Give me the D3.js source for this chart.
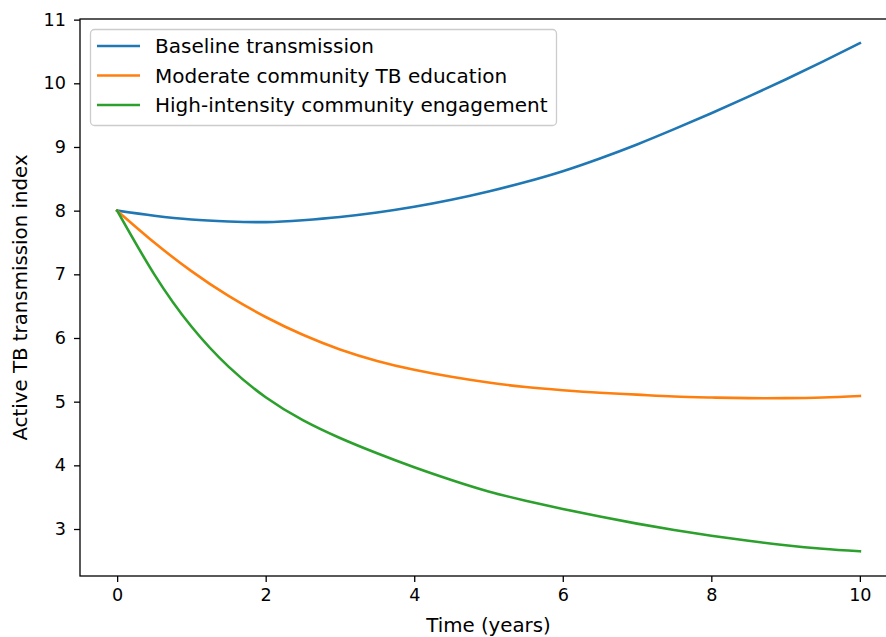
<!DOCTYPE html>
<html>
<head>
<meta charset="utf-8">
<script src="https://cdn.jsdelivr.net/npm/d3@7"></script>
<style>
  html, body { margin: 0; padding: 0; background: #fff; }
  svg { display: block; }
  text { font-family: "DejaVu Sans", sans-serif; fill: #000; }
</style>
</head>
<body>
<svg id="chart" width="886" height="637"></svg>
<script>
// Time axis (years) shared by all scenarios
const years = [0, 0.5, 1, 1.5, 2, 2.5, 3, 3.5, 4, 4.5, 5, 5.5, 6, 6.5, 7, 7.5, 8, 8.5, 9, 9.5, 10];

// Active TB transmission index under each scenario
const baseline = [8.00, 7.92, 7.86, 7.83, 7.82, 7.85, 7.90, 7.97, 8.06, 8.17, 8.30, 8.45, 8.62, 8.82, 9.04, 9.28, 9.53, 9.79, 10.06, 10.34, 10.63];
const moderate = [8.00, 7.50, 7.05, 6.66, 6.33, 6.05, 5.82, 5.64, 5.50, 5.39, 5.30, 5.23, 5.18, 5.14, 5.11, 5.08, 5.065, 5.055, 5.055, 5.065, 5.09];
const highIntensity = [8.00, 7.00, 6.18, 5.55, 5.07, 4.71, 4.43, 4.19, 3.97, 3.77, 3.59, 3.445, 3.315, 3.195, 3.085, 2.985, 2.895, 2.815, 2.745, 2.69, 2.65];

const seriesNames = ["Baseline transmission", "Moderate community TB education", "High-intensity community engagement"];
const seriesColors = ["#1f77b4", "#ff7f0e", "#2ca02c"];

const xTicks = [0, 2, 4, 6, 8, 10];
const yTicks = [3, 4, 5, 6, 7, 8, 9, 10, 11];

const xLabel = "Time (years)";
const yLabel = "Active TB transmission index";

const svg = d3.select("#chart");

const plot = { left: 80, top: 19, right: 897, bottom: 576 };

const x = d3.scaleLinear().domain([-0.5, 10.5]).range([plot.left, plot.right]);
const y = d3.scaleLinear().domain([2.262, 11.01]).range([plot.bottom, plot.top]);

const series = [baseline, moderate, highIntensity].map((vals, i) => ({
  name: seriesNames[i],
  color: seriesColors[i],
  points: years.map((t, j) => ({ t, v: vals[j] }))
}));

// lines
const line = d3.line()
  .x(d => x(d.t))
  .y(d => y(d.v))
  .curve(d3.curveNatural);

svg.append("g")
  .selectAll("path")
  .data(series)
  .join("path")
  .attr("d", d => line(d.points))
  .attr("fill", "none")
  .attr("stroke", d => d.color)
  .attr("stroke-width", 2.6)
  .attr("stroke-linecap", "square")
  .attr("stroke-linejoin", "round");

// axes
const xAxis = d3.axisBottom(x).tickValues(xTicks).tickFormat(d3.format("d")).tickSize(6).tickPadding(7);
const yAxis = d3.axisLeft(y).tickValues(yTicks).tickFormat(d3.format("d")).tickSize(6).tickPadding(8);

const gx = svg.append("g").attr("transform", `translate(0,${plot.bottom})`).call(xAxis);
const gy = svg.append("g").attr("transform", `translate(${plot.left},0)`).call(yAxis);

[gx, gy].forEach(g => {
  g.select(".domain").remove();
  g.selectAll(".tick line").attr("stroke", "#000").attr("stroke-width", 1.3);
  g.selectAll(".tick text").attr("font-size", 17.6).attr("font-family", "DejaVu Sans");
});

// frame
svg.append("rect")
  .attr("x", plot.left)
  .attr("y", plot.top)
  .attr("width", plot.right - plot.left)
  .attr("height", plot.bottom - plot.top)
  .attr("fill", "none")
  .attr("stroke", "#000")
  .attr("stroke-width", 1.3);

// axis labels
svg.append("text")
  .attr("x", (plot.left + plot.right) / 2)
  .attr("y", 632)
  .attr("text-anchor", "middle")
  .attr("font-size", 19.8)
  .text(xLabel);

svg.append("text")
  .attr("transform", `translate(27,${(plot.top + plot.bottom) / 2}) rotate(-90)`)
  .attr("text-anchor", "middle")
  .attr("font-size", 19.8)
  .text(yLabel);

// legend
const legend = svg.append("g");
legend.append("rect")
  .attr("x", 90.5)
  .attr("y", 29.5)
  .attr("width", 466)
  .attr("height", 96)
  .attr("rx", 4)
  .attr("fill", "#fff")
  .attr("fill-opacity", 0.8)
  .attr("stroke", "#cccccc")
  .attr("stroke-width", 1.3);

const rows = legend.selectAll("g.row")
  .data(series)
  .join("g")
  .attr("class", "row")
  .attr("transform", (d, i) => `translate(0,${46 + i * 29.5})`);

rows.append("line")
  .attr("x1", 97)
  .attr("x2", 140)
  .attr("stroke", d => d.color)
  .attr("stroke-width", 2.6);

rows.append("text")
  .attr("x", 155)
  .attr("y", 7)
  .attr("font-size", 20)
  .text(d => d.name);
</script>
</body>
</html>
